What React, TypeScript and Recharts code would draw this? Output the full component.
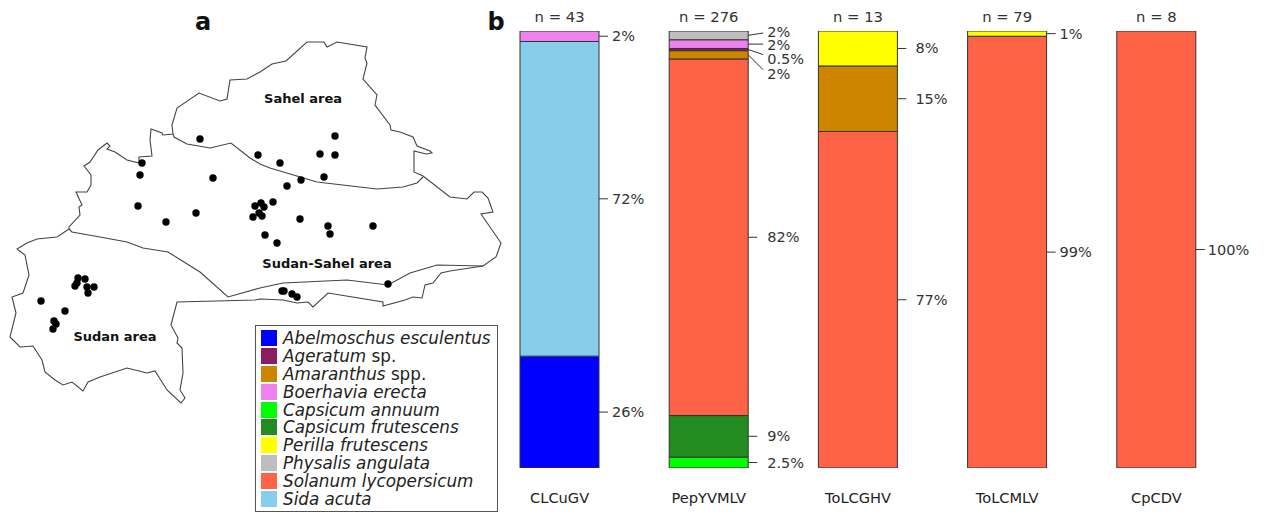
import { Bar, BarChart, LabelList, Legend, Scatter, ScatterChart, XAxis, YAxis } from 'recharts';

const FONT = '"DejaVu Sans", sans-serif';
const WIDTH = 1265;
const HEIGHT = 512;

const viruses = ['CLCuGV', 'PepYVMLV', 'ToLCGHV', 'ToLCMLV', 'CpCDV'];
const sampleSizes = ['n = 43', 'n = 276', 'n = 13', 'n = 79', 'n = 8'];

// per host share of each virus, same order as viruses, measured off the bars
const abelmoschus = [25.6, 0, 0, 0, 0];
const capsicumAnnuum = [0, 2.5, 0, 0, 0];
const capsicumFrutescens = [0, 9.5, 0, 0, 0];
const solanum = [0, 81.6, 77, 98.8, 100];
const sida = [72, 0, 0, 0, 0];
const amaranthus = [0, 1.9, 15, 0, 0];
const ageratum = [0, 0.5, 0, 0, 0];
const boerhavia = [2.4, 2, 0, 0, 0];
const physalis = [0, 2, 0, 0, 0];
const perilla = [0, 0, 8, 1.2, 0];

// the figure prints rounded shares for these
const printedAs: Record<number, number> = { 25.6: 26, 2.4: 2, 1.9: 2, 9.5: 9, 81.6: 82, 98.8: 99, 1.2: 1 };

// drawn bottom to top
const stackOrder = [
  { name: 'Abelmoschus esculentus', values: abelmoschus, color: '#0000ff' },
  { name: 'Capsicum annuum', values: capsicumAnnuum, color: '#00ff00' },
  { name: 'Capsicum frutescens', values: capsicumFrutescens, color: '#228b22' },
  { name: 'Solanum lycopersicum', values: solanum, color: '#ff6347' },
  { name: 'Sida acuta', values: sida, color: '#87ceeb' },
  { name: 'Amaranthus spp.', values: amaranthus, color: '#cd8500' },
  { name: 'Ageratum sp.', values: ageratum, color: '#8b1c62' },
  { name: 'Boerhavia erecta', values: boerhavia, color: '#ee82ee' },
  { name: 'Physalis angulata', values: physalis, color: '#bebebe' },
  { name: 'Perilla frutescens', values: perilla, color: '#ffff00' },
];

const legendOrder = [
  'Abelmoschus esculentus',
  'Ageratum sp.',
  'Amaranthus spp.',
  'Boerhavia erecta',
  'Capsicum annuum',
  'Capsicum frutescens',
  'Perilla frutescens',
  'Physalis angulata',
  'Solanum lycopersicum',
  'Sida acuta',
];

const rows = viruses.map((virus, i) => {
  const row: Record<string, string | number> = { virus, n: sampleSizes[i] };
  stackOrder.forEach((s) => {
    row[s.name] = s.values[i];
  });
  return row;
});

// map outlines, in map units
const outerBorder = [
  [69, 229], [69, 227], [80, 215], [79, 207], [82, 205], [76, 192], [87, 192], [91, 185], [91, 175], [84, 166],
  [90, 162], [98, 150], [107, 143], [110, 146], [107, 149], [115, 152], [127, 160], [139, 163], [139, 157], [152, 156],
  [150, 140], [151, 129], [162, 133], [163, 135], [173, 134], [172, 125], [177, 108], [199, 93], [220, 101], [227, 99],
  [230, 80], [247, 79], [260, 72], [272, 64], [286, 61], [307, 42], [324, 42], [327, 47], [337, 42], [367, 47],
  [365, 58], [367, 63], [363, 79], [377, 95], [375, 105], [390, 125], [391, 130], [400, 132], [413, 137], [417, 146],
  [430, 151], [432, 153], [426, 154], [414, 151], [414, 172], [423, 176], [450, 197], [467, 199], [474, 192], [482, 192],
  [488, 198], [493, 212], [481, 214], [501, 243], [496, 257], [483, 266], [450, 271], [441, 273], [433, 283], [425, 285],
  [422, 298], [413, 297], [405, 300], [383, 306], [383, 302], [328, 293], [313, 307], [308, 302], [297, 303], [283, 300],
  [260, 299], [255, 300], [177, 302], [171, 325], [178, 338], [177, 343], [182, 348], [183, 373], [180, 390], [185, 398],
  [181, 403], [167, 390], [155, 371], [147, 373], [127, 368], [100, 377], [88, 382], [83, 391], [72, 382], [63, 385],
  [55, 380], [45, 372], [42, 360], [33, 346], [20, 347], [10, 337], [16, 313], [12, 297], [23, 293], [29, 275],
  [25, 255], [17, 249], [27, 243], [37, 239], [57, 237], [69, 229],
];
const sudanLine = [
  [69, 229], [72, 232], [100, 237], [127, 242], [143, 248], [168, 252], [200, 272], [228, 297], [260, 288], [283, 283],
  [347, 280], [388, 285], [410, 273], [437, 265], [483, 266],
];
const sahelLine = [
  [173, 134], [174, 137], [187, 144], [210, 148], [231, 143], [250, 158], [260, 164], [270, 168], [317, 182], [377, 189],
  [403, 187], [417, 183], [423, 177],
];
const sites = [
  [142, 163], [140, 175], [200, 139], [213, 178], [138, 206], [258, 155], [280, 163], [335, 136], [320, 154], [335, 155],
  [324, 177], [301, 180], [287, 186], [273, 202], [261, 203], [255, 206], [264, 207], [166, 222], [196, 213], [259, 213],
  [253, 217], [262, 216], [300, 219], [328, 226], [330, 234], [373, 226], [265, 235], [277, 243], [388, 284], [282, 291],
  [284, 291], [292, 294], [297, 297], [78, 278], [85, 279], [77, 283], [75, 286], [87, 287], [94, 287], [88, 293],
  [41, 301], [65, 311], [54, 321], [56, 324], [53, 329],
];
const mapTexts = [
  { x: 303, y: 98, text: 'Sahel area', size: 13 },
  { x: 327, y: 263, text: 'Sudan-Sahel area', size: 13 },
  { x: 115, y: 336, text: 'Sudan area', size: 13 },
  { x: 203, y: 22, text: 'a', size: 24 },
  { x: 496, y: 22, text: 'b', size: 24 },
];

const toPoints = (list: number[][]) => list.map(([x, y]) => ({ x, y }));

// gap between bar and text, per virus
const textGap = [13, 19, 18, 13, 12];
// the crowded PepYVMLV labels fan out: [line end shift, text shift]
const fanShift: Record<string, [number, number]> = {
  'Physalis angulata': [-2.4, -3.4],
  'Boerhavia erecta': [0, 1],
  'Ageratum sp.': [5, 9],
  'Amaranthus spp.': [15, 19],
};

const NoMark = () => null;

function HostLegend() {
  return (
    <div style={{ boxSizing: 'border-box', width: 243, height: 187, border: '1px solid #555', background: '#fff', padding: '3px 0 0 5px', fontFamily: FONT, fontSize: 16.8, color: '#222' }}>
      {legendOrder.map((name) => {
        const host = stackOrder.find((s) => s.name === name);
        const [genus, rest] = name.split(' ');
        const abbreviated = rest === 'sp.' || rest === 'spp.';
        return (
          <div key={name} style={{ display: 'flex', alignItems: 'center', height: 17.9, whiteSpace: 'nowrap' }}>
            <span style={{ width: 16, height: 16, background: host?.color, marginRight: 6, flex: 'none' }} />
            <span style={{ fontStyle: 'italic' }}>{abbreviated ? genus : name}</span>
            {abbreviated ? <span>&nbsp;{rest}</span> : null}
          </div>
        );
      })}
    </div>
  );
}

function shareLabel(hostName: string, values: number[]) {
  // empty segments are dropped by the bar, so index only counts the drawn ones
  const drawn = viruses.map((_, i) => i).filter((i) => values[i] > 0);
  return function ShareLabel(props: any) {
    const { x, y, width, height, value, index } = props;
    if (!value) return null;
    const virusIndex = drawn[index];
    const right = x + width;
    const mid = y + height / 2;
    const shift = virusIndex === 1 ? fanShift[hostName] : undefined;
    const lineLength = shift ? 15 : 9;
    return (
      <g>
        <line x1={right} y1={mid} x2={right + lineLength} y2={mid + (shift ? shift[0] : 0)} stroke="#333" strokeWidth={1} />
        <text
          x={right + textGap[virusIndex]}
          y={mid + (shift ? shift[1] : 0)}
          dominantBaseline="central"
          fontFamily={FONT}
          fontSize={14.5}
          fill="#333"
        >
          {printedAs[value] ?? value}%
        </text>
      </g>
    );
  };
}

export default function App() {
  return (
    <div style={{ position: 'fixed', left: 0, top: 0, width: WIDTH, height: HEIGHT, background: '#fff', overflow: 'hidden' }}>
      <div style={{ position: 'absolute', left: 0, top: 0 }}>
        <ScatterChart width={WIDTH} height={HEIGHT} margin={{ top: 0, right: 0, bottom: 0, left: 0 }}>
          <XAxis type="number" dataKey="x" domain={[0, WIDTH]} hide />
          <YAxis type="number" dataKey="y" domain={[0, HEIGHT]} reversed hide />
          <Scatter data={toPoints(outerBorder)} line={{ stroke: '#444', strokeWidth: 1.1 }} shape={NoMark} isAnimationActive={false} />
          <Scatter data={toPoints(sudanLine)} line={{ stroke: '#444', strokeWidth: 1.1 }} shape={NoMark} isAnimationActive={false} />
          <Scatter data={toPoints(sahelLine)} line={{ stroke: '#444', strokeWidth: 1.1 }} shape={NoMark} isAnimationActive={false} />
          <Scatter
            data={toPoints(sites)}
            isAnimationActive={false}
            shape={(p: any) => <circle cx={p.cx} cy={p.cy} r={3.7} fill="#000" />}
          />
          <Scatter
            data={mapTexts}
            isAnimationActive={false}
            shape={(p: any) => (
              <text
                x={p.cx}
                y={p.cy}
                textAnchor="middle"
                dominantBaseline="central"
                fontFamily={FONT}
                fontWeight="bold"
                fontSize={p.payload.size}
                fill="#111"
              >
                {p.payload.text}
              </text>
            )}
          />
        </ScatterChart>
      </div>
      <div style={{ position: 'absolute', left: 0, top: 0 }}>
        <BarChart width={WIDTH} height={HEIGHT} data={rows} barSize={79} margin={{ top: 1, right: 34, bottom: 0, left: 485 }}>
          <XAxis dataKey="virus" height={44} axisLine={false} tickLine={false} interval={0} tick={{ fontFamily: FONT, fontSize: 14.6, fill: '#222' }} tickMargin={19} />
          <XAxis xAxisId="top" dataKey="n" orientation="top" height={30} axisLine={false} tickLine={false} interval={0} tick={{ fontFamily: FONT, fontSize: 14.8, fill: '#333' }} tickMargin={3} />
          <YAxis type="number" domain={[0, 100]} allowDataOverflow hide />
          <Legend
            layout="vertical"
            align="center"
            verticalAlign="middle"
            content={<HostLegend />}
            wrapperStyle={{ left: 255, top: 325, width: 243, height: 187 }}
          />
          {stackOrder.map((s) => (
            <Bar key={s.name} dataKey={s.name} stackId="hosts" fill={s.color} stroke="#333" strokeWidth={1} isAnimationActive={false}>
              <LabelList dataKey={s.name} content={shareLabel(s.name, s.values)} />
            </Bar>
          ))}
        </BarChart>
      </div>
    </div>
  );
}
